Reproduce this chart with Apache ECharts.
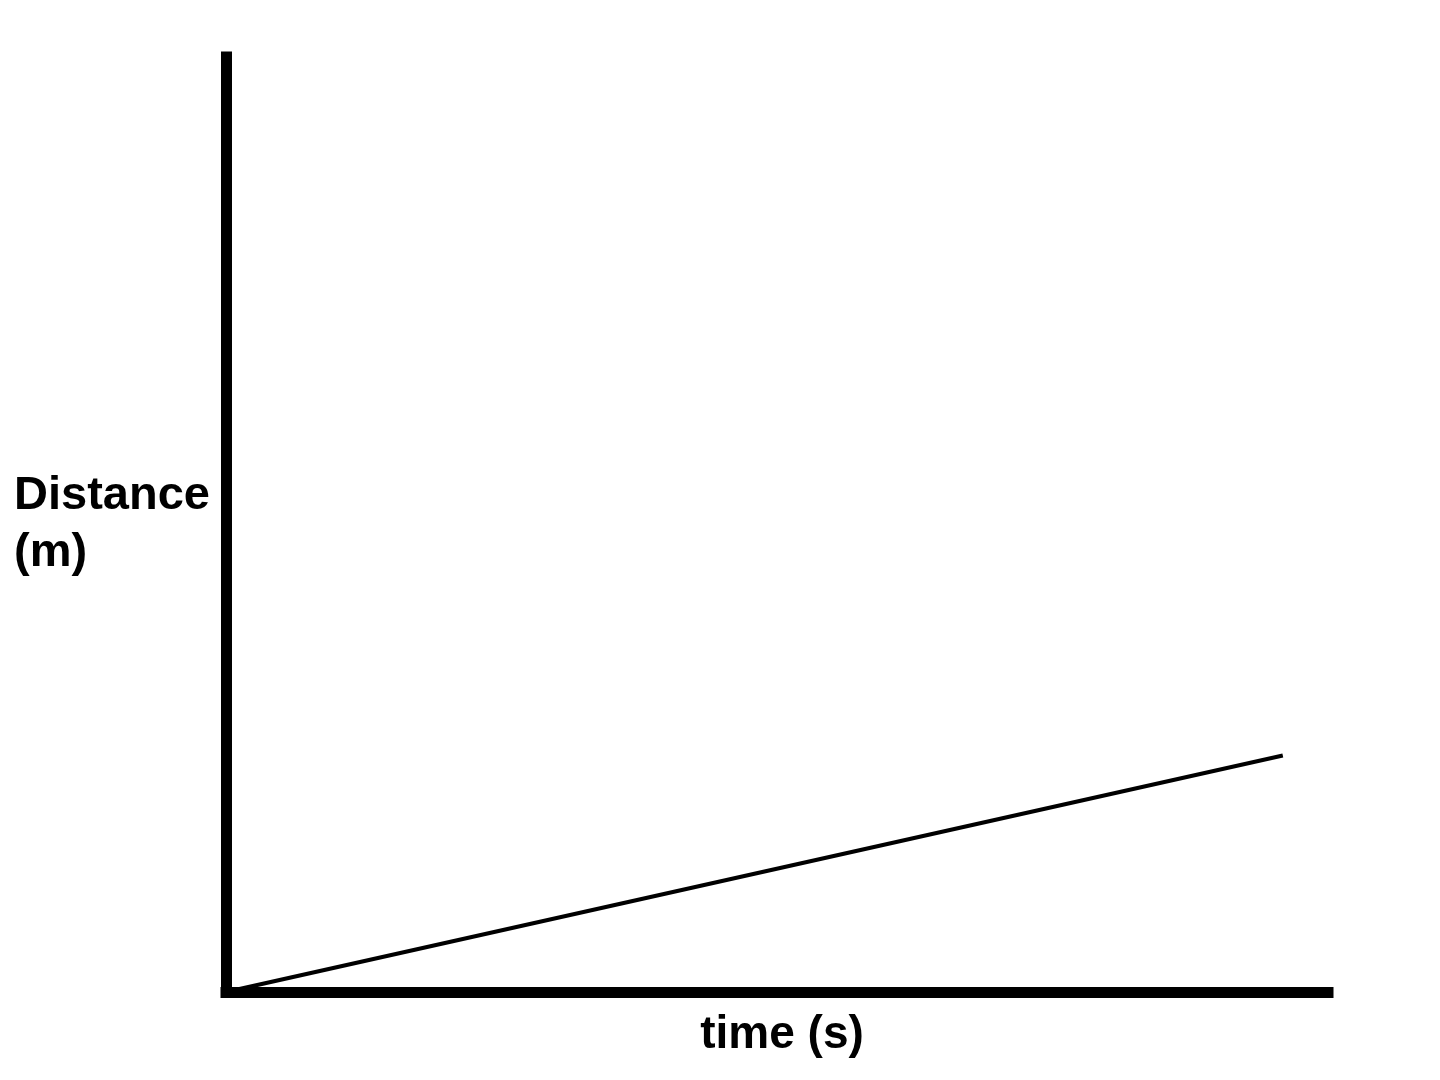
<!DOCTYPE html>
<html>
<head>
<meta charset="utf-8">
<script src="https://cdn.jsdelivr.net/npm/echarts@6/dist/echarts.min.js"></script>
<style>html,body{margin:0;padding:0;background:#fff}#c{width:1440px;height:1080px}</style>
</head>
<body>
<div id="c"></div>
<script>
const timeValues = [0, 95.9];
const distanceValues = [0, 25.3];
const xAxisName = 'time (s)';
const yAxisName = 'Distance\n(m)';

const chart = echarts.init(document.getElementById('c'));
const axisStyle = { show: true, lineStyle: { color: '#000', width: 11, cap: 'square' } };
chart.setOption({
  animation: false,
  backgroundColor: '#fff',
  grid: { left: 226, right: 112, top: 57, bottom: 88 },
  xAxis: {
    type: 'value', min: 0, max: 100,
    axisLine: axisStyle, axisTick: { show: false }, axisLabel: { show: false }, splitLine: { show: false },
    name: xAxisName, nameLocation: 'middle', nameGap: 20,
    nameTextStyle: { fontFamily: 'Liberation Sans, Arial, sans-serif', fontWeight: 'bold', fontSize: 46, color: '#000', padding: [0, 0, 0, 10] }
  },
  yAxis: {
    type: 'value', min: 0, max: 100,
    axisLine: axisStyle, axisTick: { show: false }, axisLabel: { show: false }, splitLine: { show: false },
    name: yAxisName, nameLocation: 'middle', nameRotate: 0, nameGap: 212,
    nameTextStyle: { fontFamily: 'Liberation Sans, Arial, sans-serif', fontWeight: 'bold', fontSize: 47, lineHeight: 57, color: '#000', align: 'left', padding: [38, 0, 0, 0] }
  },
  series: [{
    type: 'line',
    data: timeValues.map((t, i) => [t, distanceValues[i]]),
    showSymbol: false,
    lineStyle: { color: '#000', width: 4 },
    z: 1
  }]
});
</script>
</body>
</html>
